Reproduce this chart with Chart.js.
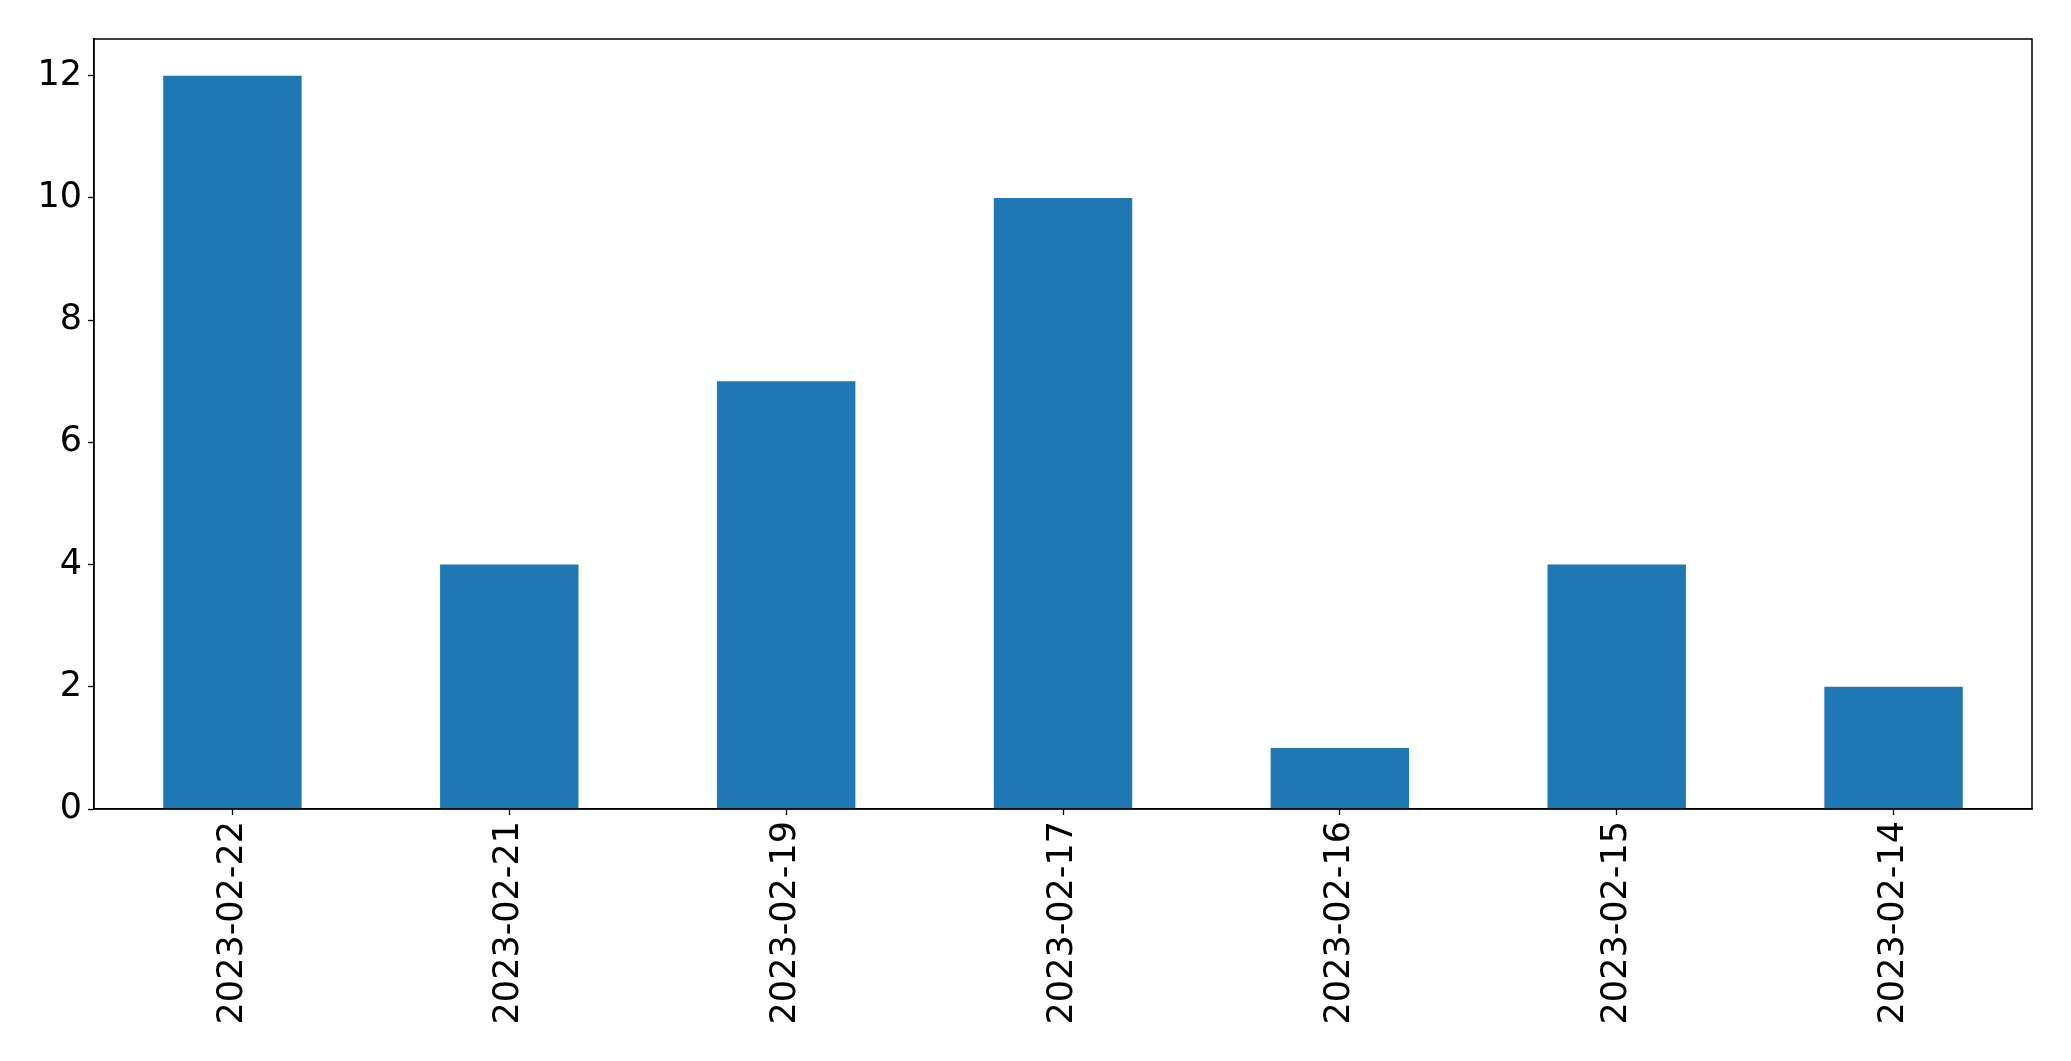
<!DOCTYPE html>
<html>
<head>
<meta charset="utf-8">
<script src="https://cdn.jsdelivr.net/npm/chart.js@4/dist/chart.umd.min.js"></script>
<style>
  html, body { margin: 0; padding: 0; background: #fff; }
  #wrap { width: 2071px; height: 1061px; }
</style>
</head>
<body>
<div id="wrap"><canvas id="chart" width="2071" height="1061"></canvas></div>
<script>
const dates = ["2023-02-22", "2023-02-21", "2023-02-19", "2023-02-17", "2023-02-16", "2023-02-15", "2023-02-14"];
const counts = [12, 4, 7, 10, 1, 4, 2];
const yTicks = [0, 2, 4, 6, 8, 10, 12];

// box around the plot area like matplotlib spines
const frame = {
  id: "frame",
  afterDraw(chart) {
    const a = chart.chartArea;
    const ctx = chart.ctx;
    ctx.save();
    ctx.strokeStyle = "#000";
    ctx.lineWidth = 1.5;
    ctx.strokeRect(a.left, a.top, a.right - a.left, a.bottom - a.top);
    ctx.restore();
  }
};

const ctx = document.getElementById("chart").getContext("2d");
new Chart(ctx, {
  type: "bar",
  data: {
    labels: dates,
    datasets: [{
      data: counts,
      backgroundColor: "#1f77b4",
      categoryPercentage: 0.5,
      barPercentage: 1.0
    }]
  },
  options: {
    responsive: false,
    animation: false,
    layout: { padding: { top: 39, right: 39, left: 0, bottom: 0 } },
    plugins: {
      legend: { display: false },
      tooltip: { enabled: false }
    },
    scales: {
      x: {
        grid: { display: true, offset: false, drawOnChartArea: false, tickLength: 6, color: "#000", tickWidth: 1.3 },
        border: { color: "#000", width: 1.5 },
        ticks: {
          color: "#000",
          font: { family: "DejaVu Sans", size: 35 },
          minRotation: 90,
          maxRotation: 90,
          padding: 6
        },
        afterFit(scale) { scale.height = 252; }
      },
      y: {
        min: 0,
        max: 12.6,
        afterBuildTicks(scale) { scale.ticks = yTicks.map(v => ({ value: v })); },
        grid: { display: true, drawOnChartArea: false, tickLength: 6, color: "#000", tickWidth: 1.3 },
        border: { color: "#000", width: 1.5 },
        ticks: {
          color: "#000",
          font: { family: "DejaVu Sans", size: 35 },
          padding: 6
        },
        afterFit(scale) { scale.width = 94; }
      }
    }
  },
  plugins: [frame]
});
</script>
</body>
</html>
